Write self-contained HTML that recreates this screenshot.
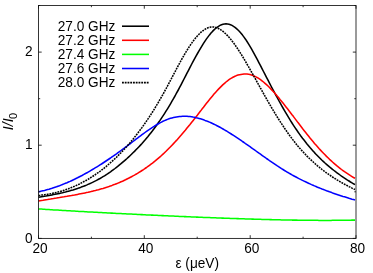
<!DOCTYPE html>
<html><head><meta charset="utf-8"><style>
html,body{margin:0;padding:0;background:#fff;}
#c{position:relative;width:373px;height:273px;overflow:hidden;will-change:transform;opacity:0.999;font-family:"Liberation Sans",sans-serif;}
.t{position:absolute;font-size:13.65px;line-height:15px;color:#000;white-space:nowrap;transform:scaleY(1.06);transform-origin:50% 55%;}
.c{text-align:center;}
.yl{left:0;top:0;transform-origin:0 0;transform:translate(4px,162px) rotate(-90deg);}
.sub{font-size:10px;position:relative;top:3px;}
</style></head><body><div id="c">
<svg width="373" height="273" viewBox="0 0 373 273" style="position:absolute;left:0;top:0">
<path d="M38.5,197.2 L40.0,196.9 L41.5,196.7 L43.0,196.5 L44.5,196.2 L46.0,196.0 L47.5,195.7 L49.0,195.4 L50.5,195.2 L52.0,194.9 L53.5,194.6 L55.0,194.3 L56.5,194.0 L58.0,193.7 L59.5,193.4 L61.0,193.0 L62.5,192.7 L64.0,192.3 L65.5,192.0 L67.0,191.6 L68.5,191.2 L70.0,190.8 L71.5,190.3 L73.0,189.9 L74.5,189.4 L76.0,188.9 L77.5,188.5 L79.0,187.9 L80.5,187.4 L82.0,186.8 L83.5,186.3 L85.0,185.7 L86.5,185.1 L88.0,184.4 L89.5,183.8 L91.0,183.1 L92.5,182.4 L94.0,181.6 L95.5,180.9 L97.0,180.1 L98.5,179.3 L100.0,178.5 L101.5,177.6 L103.0,176.7 L104.5,175.8 L106.0,174.8 L107.5,173.9 L109.0,172.8 L110.5,171.8 L112.0,170.7 L113.5,169.6 L115.0,168.5 L116.5,167.3 L118.0,166.2 L119.5,164.9 L121.0,163.7 L122.5,162.4 L124.0,161.1 L125.5,159.8 L127.0,158.5 L128.5,157.1 L130.0,155.7 L131.5,154.3 L133.0,152.8 L134.5,151.4 L136.0,149.8 L137.5,148.3 L139.0,146.7 L140.5,145.1 L142.0,143.5 L143.5,141.8 L145.0,140.1 L146.5,138.3 L148.0,136.5 L149.5,134.6 L151.0,132.7 L152.5,130.8 L154.0,128.8 L155.5,126.7 L157.0,124.7 L158.5,122.5 L160.0,120.4 L161.5,118.1 L163.0,115.9 L164.5,113.6 L166.0,111.2 L167.5,108.8 L169.0,106.3 L170.5,103.8 L172.0,101.2 L173.5,98.6 L175.0,96.0 L176.5,93.2 L178.0,90.5 L179.5,87.7 L181.0,84.8 L182.5,81.9 L184.0,79.0 L185.5,76.1 L187.0,73.2 L188.5,70.3 L190.0,67.4 L191.5,64.5 L193.0,61.7 L194.5,58.9 L196.0,56.1 L197.5,53.5 L199.0,50.8 L200.5,48.3 L202.0,45.8 L203.5,43.4 L205.0,41.1 L206.5,38.9 L208.0,36.9 L209.5,34.9 L211.0,33.1 L212.5,31.4 L214.0,29.9 L215.5,28.5 L217.0,27.3 L218.5,26.3 L220.0,25.4 L221.5,24.7 L223.0,24.2 L224.5,23.9 L226.0,23.8 L227.5,23.9 L229.0,24.2 L230.5,24.7 L232.0,25.4 L233.5,26.3 L235.0,27.3 L236.5,28.6 L238.0,30.0 L239.5,31.5 L241.0,33.2 L242.5,35.1 L244.0,37.1 L245.5,39.2 L247.0,41.5 L248.5,43.9 L250.0,46.3 L251.5,48.9 L253.0,51.6 L254.5,54.3 L256.0,57.1 L257.5,59.9 L259.0,62.8 L260.5,65.6 L262.0,68.6 L263.5,71.5 L265.0,74.4 L266.5,77.3 L268.0,80.2 L269.5,83.1 L271.0,86.0 L272.5,88.8 L274.0,91.6 L275.5,94.5 L277.0,97.2 L278.5,100.0 L280.0,102.7 L281.5,105.4 L283.0,108.0 L284.5,110.6 L286.0,113.2 L287.5,115.7 L289.0,118.2 L290.5,120.6 L292.0,123.0 L293.5,125.3 L295.0,127.6 L296.5,129.8 L298.0,132.0 L299.5,134.1 L301.0,136.2 L302.5,138.2 L304.0,140.1 L305.5,142.0 L307.0,143.9 L308.5,145.7 L310.0,147.5 L311.5,149.2 L313.0,150.9 L314.5,152.6 L316.0,154.2 L317.5,155.7 L319.0,157.2 L320.5,158.7 L322.0,160.2 L323.5,161.6 L325.0,163.0 L326.5,164.3 L328.0,165.6 L329.5,166.9 L331.0,168.1 L332.5,169.4 L334.0,170.5 L335.5,171.7 L337.0,172.8 L338.5,173.9 L340.0,175.0 L341.5,176.1 L343.0,177.1 L344.5,178.1 L346.0,179.1 L347.5,180.1 L349.0,181.0 L350.5,182.0 L352.0,182.9 L353.5,183.8 L355.0,184.6" fill="none" stroke="#000000" stroke-width="1.55" stroke-linejoin="round"/>
<path d="M38.5,201.1 L40.0,200.8 L41.5,200.5 L43.0,200.3 L44.5,200.0 L46.0,199.7 L47.5,199.5 L49.0,199.2 L50.5,199.0 L52.0,198.7 L53.5,198.5 L55.0,198.2 L56.5,198.0 L58.0,197.7 L59.5,197.5 L61.0,197.2 L62.5,197.0 L64.0,196.8 L65.5,196.5 L67.0,196.3 L68.5,196.0 L70.0,195.7 L71.5,195.5 L73.0,195.2 L74.5,195.0 L76.0,194.7 L77.5,194.4 L79.0,194.1 L80.5,193.8 L82.0,193.5 L83.5,193.2 L85.0,192.9 L86.5,192.6 L88.0,192.3 L89.5,191.9 L91.0,191.6 L92.5,191.2 L94.0,190.8 L95.5,190.5 L97.0,190.1 L98.5,189.7 L100.0,189.2 L101.5,188.8 L103.0,188.4 L104.5,187.9 L106.0,187.4 L107.5,187.0 L109.0,186.5 L110.5,185.9 L112.0,185.4 L113.5,184.8 L115.0,184.3 L116.5,183.7 L118.0,183.1 L119.5,182.5 L121.0,181.8 L122.5,181.2 L124.0,180.5 L125.5,179.8 L127.0,179.0 L128.5,178.3 L130.0,177.5 L131.5,176.7 L133.0,175.9 L134.5,175.1 L136.0,174.2 L137.5,173.4 L139.0,172.4 L140.5,171.5 L142.0,170.5 L143.5,169.6 L145.0,168.5 L146.5,167.5 L148.0,166.4 L149.5,165.3 L151.0,164.2 L152.5,163.1 L154.0,161.9 L155.5,160.7 L157.0,159.4 L158.5,158.1 L160.0,156.8 L161.5,155.5 L163.0,154.1 L164.5,152.7 L166.0,151.3 L167.5,149.8 L169.0,148.3 L170.5,146.8 L172.0,145.2 L173.5,143.6 L175.0,142.0 L176.5,140.4 L178.0,138.7 L179.5,137.0 L181.0,135.3 L182.5,133.5 L184.0,131.7 L185.5,130.0 L187.0,128.1 L188.5,126.3 L190.0,124.5 L191.5,122.6 L193.0,120.7 L194.5,118.8 L196.0,116.9 L197.5,115.0 L199.0,113.0 L200.5,111.1 L202.0,109.1 L203.5,107.2 L205.0,105.2 L206.5,103.3 L208.0,101.4 L209.5,99.6 L211.0,97.7 L212.5,95.9 L214.0,94.1 L215.5,92.4 L217.0,90.7 L218.5,89.1 L220.0,87.6 L221.5,86.1 L223.0,84.6 L224.5,83.3 L226.0,82.0 L227.5,80.8 L229.0,79.7 L230.5,78.7 L232.0,77.8 L233.5,77.0 L235.0,76.2 L236.5,75.6 L238.0,75.1 L239.5,74.7 L241.0,74.4 L242.5,74.2 L244.0,74.0 L245.5,74.0 L247.0,74.1 L248.5,74.3 L250.0,74.6 L251.5,75.0 L253.0,75.6 L254.5,76.2 L256.0,76.9 L257.5,77.7 L259.0,78.7 L260.5,79.7 L262.0,80.8 L263.5,82.0 L265.0,83.3 L266.5,84.6 L268.0,86.0 L269.5,87.5 L271.0,89.1 L272.5,90.7 L274.0,92.3 L275.5,94.0 L277.0,95.8 L278.5,97.5 L280.0,99.4 L281.5,101.2 L283.0,103.1 L284.5,105.0 L286.0,106.9 L287.5,108.8 L289.0,110.8 L290.5,112.7 L292.0,114.7 L293.5,116.6 L295.0,118.6 L296.5,120.6 L298.0,122.6 L299.5,124.5 L301.0,126.5 L302.5,128.5 L304.0,130.4 L305.5,132.3 L307.0,134.2 L308.5,136.1 L310.0,138.0 L311.5,139.8 L313.0,141.6 L314.5,143.4 L316.0,145.1 L317.5,146.8 L319.0,148.5 L320.5,150.1 L322.0,151.7 L323.5,153.3 L325.0,154.8 L326.5,156.4 L328.0,157.8 L329.5,159.3 L331.0,160.6 L332.5,162.0 L334.0,163.3 L335.5,164.6 L337.0,165.9 L338.5,167.1 L340.0,168.3 L341.5,169.5 L343.0,170.6 L344.5,171.7 L346.0,172.7 L347.5,173.7 L349.0,174.7 L350.5,175.7 L352.0,176.6 L353.5,177.5 L355.0,178.3" fill="none" stroke="#ff0000" stroke-width="1.55" stroke-linejoin="round"/>
<path d="M38.5,208.9 L40.0,209.0 L41.5,209.1 L43.0,209.2 L44.5,209.3 L46.0,209.4 L47.5,209.5 L49.0,209.6 L50.5,209.7 L52.0,209.8 L53.5,209.9 L55.0,209.9 L56.5,210.0 L58.0,210.1 L59.5,210.2 L61.0,210.3 L62.5,210.4 L64.0,210.5 L65.5,210.6 L67.0,210.7 L68.5,210.7 L70.0,210.8 L71.5,210.9 L73.0,211.0 L74.5,211.1 L76.0,211.2 L77.5,211.3 L79.0,211.4 L80.5,211.4 L82.0,211.5 L83.5,211.6 L85.0,211.7 L86.5,211.8 L88.0,211.9 L89.5,211.9 L91.0,212.0 L92.5,212.1 L94.0,212.2 L95.5,212.3 L97.0,212.3 L98.5,212.4 L100.0,212.5 L101.5,212.6 L103.0,212.7 L104.5,212.7 L106.0,212.8 L107.5,212.9 L109.0,213.0 L110.5,213.1 L112.0,213.1 L113.5,213.2 L115.0,213.3 L116.5,213.4 L118.0,213.4 L119.5,213.5 L121.0,213.6 L122.5,213.7 L124.0,213.7 L125.5,213.8 L127.0,213.9 L128.5,214.0 L130.0,214.0 L131.5,214.1 L133.0,214.2 L134.5,214.3 L136.0,214.3 L137.5,214.4 L139.0,214.5 L140.5,214.6 L142.0,214.6 L143.5,214.7 L145.0,214.8 L146.5,214.9 L148.0,214.9 L149.5,215.0 L151.0,215.1 L152.5,215.1 L154.0,215.2 L155.5,215.3 L157.0,215.3 L158.5,215.4 L160.0,215.5 L161.5,215.6 L163.0,215.6 L164.5,215.7 L166.0,215.8 L167.5,215.8 L169.0,215.9 L170.5,216.0 L172.0,216.0 L173.5,216.1 L175.0,216.2 L176.5,216.2 L178.0,216.3 L179.5,216.4 L181.0,216.4 L182.5,216.5 L184.0,216.6 L185.5,216.6 L187.0,216.7 L188.5,216.7 L190.0,216.8 L191.5,216.9 L193.0,216.9 L194.5,217.0 L196.0,217.1 L197.5,217.1 L199.0,217.2 L200.5,217.2 L202.0,217.3 L203.5,217.4 L205.0,217.4 L206.5,217.5 L208.0,217.5 L209.5,217.6 L211.0,217.7 L212.5,217.7 L214.0,217.8 L215.5,217.8 L217.0,217.9 L218.5,217.9 L220.0,218.0 L221.5,218.1 L223.0,218.1 L224.5,218.2 L226.0,218.2 L227.5,218.3 L229.0,218.3 L230.5,218.4 L232.0,218.4 L233.5,218.5 L235.0,218.5 L236.5,218.6 L238.0,218.6 L239.5,218.7 L241.0,218.7 L242.5,218.8 L244.0,218.8 L245.5,218.9 L247.0,218.9 L248.5,219.0 L250.0,219.0 L251.5,219.1 L253.0,219.1 L254.5,219.2 L256.0,219.2 L257.5,219.3 L259.0,219.3 L260.5,219.3 L262.0,219.4 L263.5,219.4 L265.0,219.5 L266.5,219.5 L268.0,219.5 L269.5,219.6 L271.0,219.6 L272.5,219.7 L274.0,219.7 L275.5,219.7 L277.0,219.8 L278.5,219.8 L280.0,219.8 L281.5,219.9 L283.0,219.9 L284.5,219.9 L286.0,220.0 L287.5,220.0 L289.0,220.0 L290.5,220.0 L292.0,220.1 L293.5,220.1 L295.0,220.1 L296.5,220.1 L298.0,220.2 L299.5,220.2 L301.0,220.2 L302.5,220.2 L304.0,220.2 L305.5,220.3 L307.0,220.3 L308.5,220.3 L310.0,220.3 L311.5,220.3 L313.0,220.3 L314.5,220.3 L316.0,220.3 L317.5,220.3 L319.0,220.4 L320.5,220.4 L322.0,220.4 L323.5,220.4 L325.0,220.4 L326.5,220.4 L328.0,220.4 L329.5,220.4 L331.0,220.4 L332.5,220.3 L334.0,220.3 L335.5,220.3 L337.0,220.3 L338.5,220.3 L340.0,220.3 L341.5,220.3 L343.0,220.3 L344.5,220.2 L346.0,220.2 L347.5,220.2 L349.0,220.2 L350.5,220.2 L352.0,220.1 L353.5,220.1 L355.0,220.1" fill="none" stroke="#00ff00" stroke-width="1.55" stroke-linejoin="round"/>
<path d="M38.5,191.7 L40.0,191.4 L41.5,191.1 L43.0,190.7 L44.5,190.4 L46.0,190.0 L47.5,189.6 L49.0,189.2 L50.5,188.7 L52.0,188.3 L53.5,187.8 L55.0,187.3 L56.5,186.8 L58.0,186.2 L59.5,185.7 L61.0,185.1 L62.5,184.5 L64.0,183.9 L65.5,183.3 L67.0,182.7 L68.5,182.0 L70.0,181.4 L71.5,180.7 L73.0,180.0 L74.5,179.3 L76.0,178.5 L77.5,177.8 L79.0,177.0 L80.5,176.2 L82.0,175.5 L83.5,174.6 L85.0,173.8 L86.5,173.0 L88.0,172.2 L89.5,171.3 L91.0,170.4 L92.5,169.5 L94.0,168.6 L95.5,167.7 L97.0,166.8 L98.5,165.9 L100.0,164.9 L101.5,164.0 L103.0,163.0 L104.5,162.0 L106.0,161.0 L107.5,160.0 L109.0,159.0 L110.5,158.0 L112.0,156.9 L113.5,155.9 L115.0,154.8 L116.5,153.8 L118.0,152.7 L119.5,151.6 L121.0,150.5 L122.5,149.4 L124.0,148.3 L125.5,147.2 L127.0,146.1 L128.5,144.9 L130.0,143.8 L131.5,142.7 L133.0,141.5 L134.5,140.4 L136.0,139.2 L137.5,138.1 L139.0,136.9 L140.5,135.8 L142.0,134.7 L143.5,133.6 L145.0,132.5 L146.5,131.4 L148.0,130.3 L149.5,129.3 L151.0,128.3 L152.5,127.3 L154.0,126.4 L155.5,125.4 L157.0,124.5 L158.5,123.7 L160.0,122.9 L161.5,122.1 L163.0,121.3 L164.5,120.6 L166.0,120.0 L167.5,119.4 L169.0,118.8 L170.5,118.3 L172.0,117.9 L173.5,117.5 L175.0,117.2 L176.5,116.9 L178.0,116.7 L179.5,116.5 L181.0,116.4 L182.5,116.3 L184.0,116.3 L185.5,116.3 L187.0,116.3 L188.5,116.5 L190.0,116.6 L191.5,116.8 L193.0,117.1 L194.5,117.3 L196.0,117.7 L197.5,118.0 L199.0,118.4 L200.5,118.8 L202.0,119.3 L203.5,119.8 L205.0,120.4 L206.5,120.9 L208.0,121.5 L209.5,122.1 L211.0,122.8 L212.5,123.5 L214.0,124.2 L215.5,124.9 L217.0,125.7 L218.5,126.5 L220.0,127.3 L221.5,128.1 L223.0,129.0 L224.5,129.9 L226.0,130.7 L227.5,131.7 L229.0,132.6 L230.5,133.5 L232.0,134.5 L233.5,135.4 L235.0,136.4 L236.5,137.4 L238.0,138.4 L239.5,139.4 L241.0,140.4 L242.5,141.5 L244.0,142.5 L245.5,143.6 L247.0,144.6 L248.5,145.7 L250.0,146.7 L251.5,147.8 L253.0,148.9 L254.5,149.9 L256.0,151.0 L257.5,152.1 L259.0,153.2 L260.5,154.2 L262.0,155.3 L263.5,156.4 L265.0,157.4 L266.5,158.5 L268.0,159.5 L269.5,160.6 L271.0,161.6 L272.5,162.6 L274.0,163.6 L275.5,164.7 L277.0,165.7 L278.5,166.6 L280.0,167.6 L281.5,168.6 L283.0,169.5 L284.5,170.5 L286.0,171.4 L287.5,172.3 L289.0,173.1 L290.5,174.0 L292.0,174.9 L293.5,175.7 L295.0,176.5 L296.5,177.3 L298.0,178.1 L299.5,178.9 L301.0,179.6 L302.5,180.4 L304.0,181.1 L305.5,181.8 L307.0,182.5 L308.5,183.2 L310.0,183.9 L311.5,184.6 L313.0,185.2 L314.5,185.9 L316.0,186.5 L317.5,187.2 L319.0,187.8 L320.5,188.4 L322.0,189.0 L323.5,189.5 L325.0,190.1 L326.5,190.7 L328.0,191.2 L329.5,191.8 L331.0,192.3 L332.5,192.9 L334.0,193.4 L335.5,193.9 L337.0,194.4 L338.5,194.9 L340.0,195.4 L341.5,195.9 L343.0,196.4 L344.5,196.8 L346.0,197.3 L347.5,197.8 L349.0,198.3 L350.5,198.7 L352.0,199.2 L353.5,199.6 L355.0,200.1" fill="none" stroke="#0000ff" stroke-width="1.55" stroke-linejoin="round"/>
<path d="M38.5,195.4 L40.0,195.3 L41.5,195.1 L43.0,194.9 L44.5,194.7 L46.0,194.5 L47.5,194.3 L49.0,194.0 L50.5,193.8 L52.0,193.5 L53.5,193.1 L55.0,192.8 L56.5,192.4 L58.0,192.0 L59.5,191.6 L61.0,191.2 L62.5,190.8 L64.0,190.3 L65.5,189.8 L67.0,189.2 L68.5,188.7 L70.0,188.1 L71.5,187.5 L73.0,186.9 L74.5,186.3 L76.0,185.6 L77.5,184.9 L79.0,184.2 L80.5,183.4 L82.0,182.6 L83.5,181.8 L85.0,181.0 L86.5,180.2 L88.0,179.3 L89.5,178.4 L91.0,177.4 L92.5,176.5 L94.0,175.5 L95.5,174.5 L97.0,173.4 L98.5,172.4 L100.0,171.3 L101.5,170.1 L103.0,169.0 L104.5,167.8 L106.0,166.6 L107.5,165.3 L109.0,164.0 L110.5,162.7 L112.0,161.4 L113.5,160.0 L115.0,158.6 L116.5,157.2 L118.0,155.7 L119.5,154.2 L121.0,152.7 L122.5,151.1 L124.0,149.5 L125.5,147.9 L127.0,146.2 L128.5,144.5 L130.0,142.8 L131.5,141.0 L133.0,139.2 L134.5,137.3 L136.0,135.4 L137.5,133.5 L139.0,131.5 L140.5,129.5 L142.0,127.5 L143.5,125.4 L145.0,123.3 L146.5,121.1 L148.0,118.9 L149.5,116.6 L151.0,114.3 L152.5,112.0 L154.0,109.6 L155.5,107.1 L157.0,104.6 L158.5,102.1 L160.0,99.5 L161.5,96.9 L163.0,94.3 L164.5,91.5 L166.0,88.8 L167.5,86.0 L169.0,83.2 L170.5,80.3 L172.0,77.5 L173.5,74.6 L175.0,71.8 L176.5,68.9 L178.0,66.1 L179.5,63.4 L181.0,60.6 L182.5,57.9 L184.0,55.3 L185.5,52.8 L187.0,50.3 L188.5,47.9 L190.0,45.6 L191.5,43.4 L193.0,41.3 L194.5,39.3 L196.0,37.5 L197.5,35.7 L199.0,34.2 L200.5,32.7 L202.0,31.4 L203.5,30.3 L205.0,29.3 L206.5,28.5 L208.0,27.8 L209.5,27.4 L211.0,27.1 L212.5,27.0 L214.0,27.1 L215.5,27.4 L217.0,27.9 L218.5,28.5 L220.0,29.3 L221.5,30.3 L223.0,31.4 L224.5,32.7 L226.0,34.1 L227.5,35.6 L229.0,37.2 L230.5,39.0 L232.0,40.9 L233.5,42.8 L235.0,44.9 L236.5,47.1 L238.0,49.3 L239.5,51.6 L241.0,54.0 L242.5,56.4 L244.0,58.9 L245.5,61.5 L247.0,64.1 L248.5,66.7 L250.0,69.3 L251.5,72.0 L253.0,74.7 L254.5,77.3 L256.0,80.0 L257.5,82.7 L259.0,85.5 L260.5,88.2 L262.0,90.8 L263.5,93.5 L265.0,96.2 L266.5,98.9 L268.0,101.5 L269.5,104.1 L271.0,106.7 L272.5,109.2 L274.0,111.7 L275.5,114.2 L277.0,116.6 L278.5,119.0 L280.0,121.3 L281.5,123.6 L283.0,125.9 L284.5,128.1 L286.0,130.3 L287.5,132.5 L289.0,134.6 L290.5,136.6 L292.0,138.6 L293.5,140.6 L295.0,142.5 L296.5,144.4 L298.0,146.2 L299.5,147.9 L301.0,149.6 L302.5,151.3 L304.0,152.9 L305.5,154.5 L307.0,156.1 L308.5,157.6 L310.0,159.0 L311.5,160.4 L313.0,161.8 L314.5,163.2 L316.0,164.5 L317.5,165.8 L319.0,167.0 L320.5,168.3 L322.0,169.5 L323.5,170.6 L325.0,171.8 L326.5,172.9 L328.0,173.9 L329.5,175.0 L331.0,176.0 L332.5,177.0 L334.0,178.0 L335.5,178.9 L337.0,179.9 L338.5,180.8 L340.0,181.7 L341.5,182.5 L343.0,183.4 L344.5,184.2 L346.0,185.0 L347.5,185.8 L349.0,186.6 L350.5,187.3 L352.0,188.1 L353.5,188.8 L355.0,189.5" fill="none" stroke="#000000" stroke-width="1.55" stroke-linejoin="round" stroke-dasharray="1.85,0.9"/>
<rect x="38.5" y="5.5" width="317.5" height="232.9" fill="none" stroke="#111" stroke-width="0.85"/>
<path d="M38.5,238.4 v-3.2 M38.5,5.5 v3.2 M91.4,238.4 v-1.7 M91.4,5.5 v1.7 M144.3,238.4 v-3.2 M144.3,5.5 v3.2 M197.2,238.4 v-1.7 M197.2,5.5 v1.7 M250.2,238.4 v-3.2 M250.2,5.5 v3.2 M303.1,238.4 v-1.7 M303.1,5.5 v1.7 M356.0,238.4 v-3.2 M356.0,5.5 v3.2 M38.5,238.4 h3.2 M356.0,238.4 h-3.2 M38.5,191.8 h1.7 M356.0,191.8 h-1.7 M38.5,145.2 h3.2 M356.0,145.2 h-3.2 M38.5,98.7 h1.7 M356.0,98.7 h-1.7 M38.5,52.1 h3.2 M356.0,52.1 h-3.2 M38.5,5.5 h1.7 M356.0,5.5 h-1.7" fill="none" stroke="#111" stroke-width="0.85"/>
<path d="M122,26.2 H149" stroke="#000000" stroke-width="1.55" fill="none"/>
<path d="M122,40.3 H149" stroke="#ff0000" stroke-width="1.55" fill="none"/>
<path d="M122,54.4 H149" stroke="#00ff00" stroke-width="1.55" fill="none"/>
<path d="M122,68.5 H149" stroke="#0000ff" stroke-width="1.55" fill="none"/>
<path d="M122,82.6 H149" stroke="#000000" stroke-width="1.55" fill="none" stroke-dasharray="1.85,0.9"/>
<text transform="translate(12.7,130.2) rotate(-90)" font-family="Liberation Sans, sans-serif" font-size="14.2" font-style="italic" fill="#000">I/I<tspan font-style="normal" font-size="11" dx="-0.6" dy="4.3">0</tspan></text>
</svg>
<div class="t" style="right:257.6px;top:18.7px">27.0 GHz</div>
<div class="t" style="right:257.6px;top:32.8px">27.2 GHz</div>
<div class="t" style="right:257.6px;top:46.9px">27.4 GHz</div>
<div class="t" style="right:257.6px;top:61.0px">27.6 GHz</div>
<div class="t" style="right:257.6px;top:75.1px">28.0 GHz</div>
<div class="t" style="right:340.3px;top:230.60px">0</div>
<div class="t" style="right:340.3px;top:137.44px">1</div>
<div class="t" style="right:340.3px;top:44.28px">2</div>
<div class="t c" style="left:20.05px;width:40px;top:241.2px">20</div>
<div class="t c" style="left:125.88px;width:40px;top:241.2px">40</div>
<div class="t c" style="left:231.72px;width:40px;top:241.2px">60</div>
<div class="t c" style="left:337.55px;width:40px;top:241.2px">80</div>
<div class="t c" style="left:157.25px;width:80px;top:256.15px">&epsilon; (&mu;eV)</div>
</div></body></html>
